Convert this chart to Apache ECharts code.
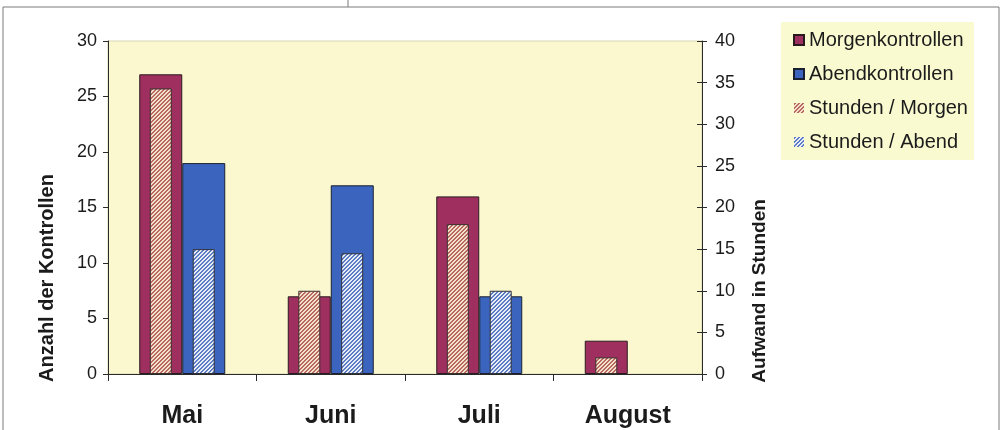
<!DOCTYPE html>
<html>
<head>
<meta charset="utf-8">
<script src="https://cdn.jsdelivr.net/npm/echarts@6/dist/echarts.min.js"></script>
<style>
  html, body { margin: 0; padding: 0; background: #ffffff; }
  #chart { width: 1002px; height: 430px; }
</style>
</head>
<body>
<div id="chart"></div>
<script>
// Monthly control counts (left axis) and hours spent (right axis)
const months = ['Mai', 'Juni', 'Juli', 'August'];
const morgenKontrollen = [27, 7, 16, 3];
const abendKontrollen = [19, 17, 7, 0];
const stundenMorgen = [34.3, 10, 18, 2];
const stundenAbend = [15, 14.5, 10, 0];
const countTicks = { min: 0, max: 30, interval: 5 };
const hourTicks = { min: 0, max: 40, interval: 5 };

const FONT = '"Liberation Sans", Arial, sans-serif';
const TEXT = '#1b1b1b';
const AXIS = '#2a2a2a';

// Diagonal hatch fill built pixel by pixel so the stripes stay crisp
function hatch(bg, fg) {
  const size = 4;
  const c = document.createElement('canvas');
  c.width = size; c.height = size;
  const ctx = c.getContext('2d');
  const img = ctx.createImageData(size, size);
  const parse = h => [1, 3, 5].map(i => parseInt(h.substr(i, 2), 16));
  const b = parse(bg), f = parse(fg);
  for (let y = 0; y < size; y++) {
    for (let x = 0; x < size; x++) {
      const col = ((x + y) % size) < 2 ? f : b;
      const k = (y * size + x) * 4;
      img.data[k] = col[0]; img.data[k + 1] = col[1]; img.data[k + 2] = col[2]; img.data[k + 3] = 255;
    }
  }
  ctx.putImageData(img, 0, 0);
  return { image: c, repeat: 'repeat' };
}

// Zero-height bars get no outline so nothing shows on the axis
const barData = values => values.map(v => (v === 0 ? { value: v, itemStyle: { borderWidth: 0 } } : v));

const MORGEN = '#9e2f5e';
const ABEND = '#3a64bd';
const hatchMorgen = hatch('#f4e0d0', '#b86a5c');
const hatchAbend = hatch('#e8eef8', '#5d7cc4');

const chart = echarts.init(document.getElementById('chart'), null, { renderer: 'canvas' });

const option = {
  backgroundColor: '#ffffff',
  animation: false,
  textStyle: { fontFamily: FONT, color: TEXT },
  grid: {
    left: 108, right: 300, top: 41, bottom: 56,
    show: true, backgroundColor: '#fbf8cf', borderColor: '#d9d7b0', borderWidth: 1
  },
  legend: {
    orient: 'vertical',
    left: 781, top: 22,
    padding: [8, 6, 8, 12],
    backgroundColor: '#f9fad0',
    icon: 'rect',
    itemWidth: 10, itemHeight: 10, itemGap: 14,
    textStyle: { fontFamily: FONT, fontSize: 20, color: TEXT, lineHeight: 20 },
    data: [
      { name: 'Morgenkontrollen' },
      { name: 'Abendkontrollen' },
      { name: 'Stunden / Morgen', itemStyle: { borderWidth: 0 } },
      { name: 'Stunden / Abend', itemStyle: { borderWidth: 0 } }
    ]
  },
  xAxis: [
    {
      type: 'category', data: months, position: 'bottom',
      axisLine: { lineStyle: { color: AXIS, width: 1 } },
      axisTick: { show: true, length: 7, lineStyle: { color: AXIS } },
      axisLabel: { fontFamily: FONT, fontSize: 25, fontWeight: 'bold', color: TEXT, margin: 30 }
    },
    { type: 'category', data: months, show: false }
  ],
  yAxis: [
    {
      type: 'value', position: 'left', ...countTicks,
      splitLine: { show: false },
      axisLine: { show: true, lineStyle: { color: AXIS } },
      axisTick: { show: true, length: 5, lineStyle: { color: AXIS } },
      axisLabel: { fontFamily: FONT, fontSize: 18, color: TEXT, margin: 11 }
    },
    {
      type: 'value', position: 'right', ...hourTicks,
      splitLine: { show: false },
      axisLine: { show: true, lineStyle: { color: AXIS } },
      axisTick: { show: true, length: 5, lineStyle: { color: AXIS } },
      axisLabel: { fontFamily: FONT, fontSize: 18, color: TEXT, margin: 13 }
    },
    {
      // inner half of the crossing ticks on the hours axis
      type: 'value', position: 'right', ...hourTicks,
      splitLine: { show: false },
      axisLine: { show: false },
      axisTick: { show: true, inside: true, length: 5, lineStyle: { color: AXIS } },
      axisLabel: { show: false }
    }
  ],
  graphic: [
    {
      type: 'text', x: 47, y: 278, rotation: Math.PI / 2,
      style: { text: 'Anzahl der Kontrollen', font: 'bold 20px ' + FONT, fill: TEXT, align: 'center', verticalAlign: 'middle' }
    },
    {
      type: 'text', x: 760, y: 291, rotation: Math.PI / 2,
      style: { text: 'Aufwand in Stunden', font: 'bold 19px ' + FONT, fill: TEXT, align: 'center', verticalAlign: 'middle' }
    },
    {
      // surrounding frame
      type: 'polyline', silent: true,
      shape: { points: [[3, 440], [3, 7], [999, 7], [999, 440]] },
      style: { stroke: '#7a7a7a', lineWidth: 1, fill: null }
    },
    {
      type: 'line', silent: true,
      shape: { x1: 348, y1: 0, x2: 348, y2: 7 },
      style: { stroke: '#7a7a7a', lineWidth: 1 }
    }
  ],
  series: [
    {
      name: 'Morgenkontrollen', type: 'bar', xAxisIndex: 0, yAxisIndex: 0,
      data: barData(morgenKontrollen), barWidth: 43, barGap: '0%',
      itemStyle: { color: MORGEN, borderColor: '#2a1a20', borderWidth: 1 }
    },
    {
      name: 'Abendkontrollen', type: 'bar', xAxisIndex: 0, yAxisIndex: 0,
      data: barData(abendKontrollen), barWidth: 43, barGap: '0%',
      itemStyle: { color: ABEND, borderColor: '#1a2030', borderWidth: 1 }
    },
    {
      name: 'Stunden / Morgen', type: 'bar', xAxisIndex: 1, yAxisIndex: 1,
      data: barData(stundenMorgen), barWidth: 22, barGap: '95%',
      itemStyle: { color: hatchMorgen, borderColor: '#3a3030', borderWidth: 1 }
    },
    {
      name: 'Stunden / Abend', type: 'bar', xAxisIndex: 1, yAxisIndex: 1,
      data: barData(stundenAbend), barWidth: 22, barGap: '95%',
      itemStyle: { color: hatchAbend, borderColor: '#303038', borderWidth: 1 }
    }
  ]
};

chart.setOption(option);
</script>
</body>
</html>
